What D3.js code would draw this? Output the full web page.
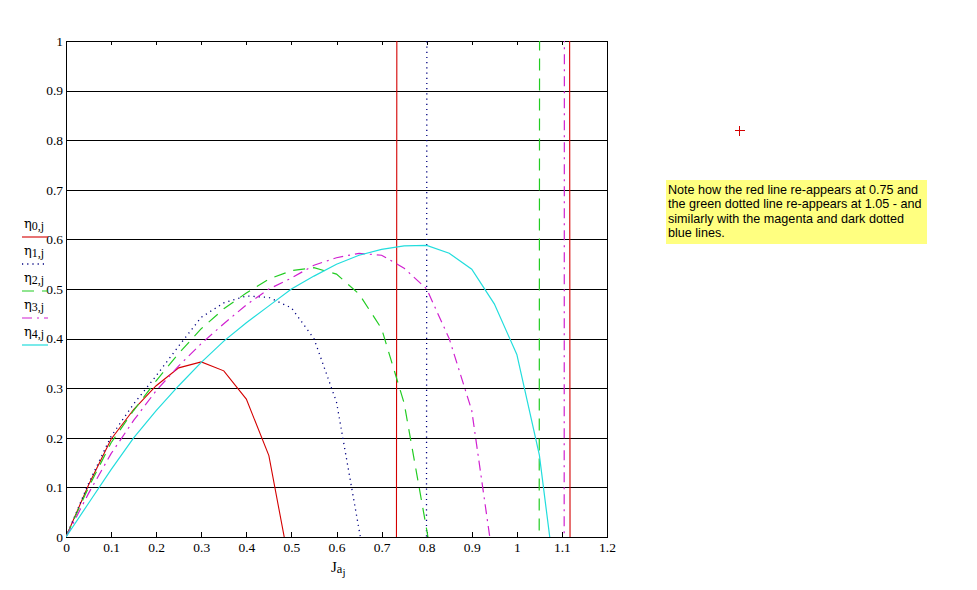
<!DOCTYPE html>
<html>
<head>
<meta charset="utf-8">
<script src="https://cdn.jsdelivr.net/npm/d3@7"></script>
<style>
  body { margin: 0; background: #fff; }
  svg { display: block; }
</style>
</head>
<body>
<div id="chart"></div>
<script>
// advance ratio values J (step 0.05)
var jVals = [0, 0.05, 0.1, 0.15, 0.2, 0.25, 0.3, 0.35, 0.4, 0.45, 0.5, 0.55, 0.6,
             0.65, 0.7, 0.75, 0.8, 0.85, 0.9, 0.95, 1.0, 1.05, 1.1, 1.15, 1.2];

// efficiency curves (values outside 0..1 are clipped, they make the jumps)
var eta0 = [0, 0.105, 0.197, 0.257, 0.305, 0.341, 0.353, 0.335, 0.278, 0.164, -0.077, -0.45, -1.1,
            -2.6, -40, 20.6, 7, 4.5, 3.6, 3.8, 5, 8, 20, -35.5, -12];
var eta1 = [0, 0.108, 0.203, 0.268, 0.325, 0.385, 0.443, 0.472, 0.486, 0.483, 0.462, 0.4, 0.272,
            0.015, -0.235, -60, 0.5, 60, 8, 4, 3, 2.6, 2.4, 2.3, 2.3];
var eta2 = [0, 0.1, 0.19, 0.255, 0.315, 0.37, 0.42, 0.46, 0.492, 0.52, 0.537, 0.543, 0.53,
            0.49, 0.42, 0.27, 0.015, -0.25, -0.6, -1.3, -60, 0.5, 60, 6, 3.5];
var eta3 = [0, 0.088, 0.168, 0.235, 0.295, 0.345, 0.39, 0.43, 0.468, 0.5, 0.522, 0.548, 0.563,
            0.572, 0.568, 0.542, 0.5, 0.4, 0.255, -0.064, -0.5, -1.5, -10, 90, 20];
var eta4 = [0, 0.068, 0.136, 0.2, 0.255, 0.305, 0.352, 0.395, 0.432, 0.466, 0.5, 0.526, 0.55,
            0.568, 0.58, 0.587, 0.588, 0.572, 0.54, 0.47, 0.368, 0.165, -0.194, -0.7, -1.5];

var seriesNames = ["0", "1", "2", "3", "4"];
var xTicks = [0, 0.1, 0.2, 0.3, 0.4, 0.5, 0.6, 0.7, 0.8, 0.9, 1, 1.1, 1.2];
var yTicks = [0, 0.1, 0.2, 0.3, 0.4, 0.5, 0.6, 0.7, 0.8, 0.9, 1];

var noteLines = [
    "Note how the red line re-appears at 0.75 and",
    "the green dotted line re-appears at 1.05 - and",
    "similarly with the magenta and dark dotted",
    "blue lines."
];

var styles = [
    { color: "#d40000", dash: null, width: 1.1 },
    { color: "#000080", dash: "1.2,4", width: 1.3 },
    { color: "#22cc22", dash: "12,8", width: 1.2 },
    { color: "#d020d0", dash: "10,5,2,5", width: 1.2 },
    { color: "#22dddd", dash: null, width: 1.2 }
];
var etas = [eta0, eta1, eta2, eta3, eta4];

var width = 977;
var height = 590;
var pLeft = 66, pRight = 607, pTop = 41, pBottom = 537;

var svg = d3.select("#chart").append("svg")
    .attr("width", width)
    .attr("height", height);

svg.append("rect").attr("width", width).attr("height", height).attr("fill", "#fff");

var x = d3.scaleLinear().domain([0, 1.2]).range([pLeft, pRight]);
var y = d3.scaleLinear().domain([0, 1]).range([pBottom, pTop]);

svg.append("clipPath").attr("id", "plotClip")
    .append("rect")
    .attr("x", pLeft).attr("y", pTop)
    .attr("width", pRight - pLeft).attr("height", pBottom - pTop);

var tickFont = "'Liberation Serif', 'Times New Roman', serif";

// horizontal grid + y labels
var yAxis = svg.append("g")
    .attr("transform", `translate(${pLeft},0)`)
    .call(d3.axisLeft(y).tickValues(yTicks).tickSize(-(pRight - pLeft)).tickPadding(3)
        .tickFormat(d => String(+d.toFixed(1))));
yAxis.select(".domain").remove();
yAxis.selectAll("line").attr("stroke", "#000").attr("shape-rendering", "crispEdges");
yAxis.selectAll("text")
    .style("font-family", tickFont)
    .style("font-size", "13.5px")
    .attr("fill", "#000");

// bottom axis, ticks pointing inwards
var xAxis = svg.append("g")
    .attr("transform", `translate(0,${pBottom})`)
    .call(d3.axisBottom(x).tickValues(xTicks).tickSizeInner(-5).tickSizeOuter(0).tickPadding(5)
        .tickFormat(d => String(+d.toFixed(1))));
xAxis.select(".domain").remove();
xAxis.selectAll("line").attr("stroke", "#000").attr("shape-rendering", "crispEdges");
xAxis.selectAll("text")
    .style("font-family", tickFont)
    .style("font-size", "13.5px")
    .attr("fill", "#000");

// top axis, ticks only
var xTop = svg.append("g")
    .attr("transform", `translate(0,${pTop})`)
    .call(d3.axisTop(x).tickValues(xTicks).tickSizeInner(-4).tickSizeOuter(0).tickFormat(""));
xTop.select(".domain").remove();
xTop.selectAll("line").attr("stroke", "#000").attr("shape-rendering", "crispEdges");

// plot border
svg.append("rect")
    .attr("x", pLeft).attr("y", pTop)
    .attr("width", pRight - pLeft).attr("height", pBottom - pTop)
    .attr("fill", "none").attr("stroke", "#000")
    .attr("shape-rendering", "crispEdges");

// curves
var line = d3.line()
    .x((d, i) => x(jVals[i]))
    .y(d => y(d));

var curves = svg.append("g").attr("clip-path", "url(#plotClip)");
etas.forEach(function (values, k) {
    curves.append("path")
        .datum(values)
        .attr("d", line)
        .attr("fill", "none")
        .attr("stroke", styles[k].color)
        .attr("stroke-width", styles[k].width)
        .attr("stroke-dasharray", styles[k].dash);
});

// legend on the left
var legend = svg.append("g");
seriesNames.forEach(function (name, k) {
    var ly = 237 + k * 27;
    var t = legend.append("text")
        .attr("x", 24)
        .attr("y", ly - 9)
        .attr("fill", "#000");
    t.append("tspan")
        .style("font-family", "'DejaVu Serif', serif")
        .style("font-size", "13px")
        .text("\u03B7");
    t.append("tspan")
        .attr("dy", 1.5)
        .style("font-family", "'Liberation Serif', serif")
        .style("font-size", "12px")
        .text(name + ",j");
    legend.append("line")
        .attr("x1", 22).attr("x2", 48)
        .attr("y1", ly).attr("y2", ly)
        .attr("stroke", styles[k].color)
        .attr("stroke-width", styles[k].width)
        .attr("stroke-dasharray", styles[k].dash);
});

// x axis title Ja_j
var xt = svg.append("text")
    .attr("x", 331)
    .attr("y", 572)
    .attr("fill", "#000")
    .style("font-family", "'Liberation Serif', serif");
xt.append("tspan").style("font-size", "15px").text("J");
xt.append("tspan").attr("dy", 1).style("font-size", "12.5px").text("a");
xt.append("tspan").attr("dy", 3).style("font-size", "11px").text("j");

// red cross marker
var mk = svg.append("g").attr("stroke", "#d40000").attr("stroke-width", 1)
    .attr("shape-rendering", "crispEdges");
mk.append("line").attr("x1", 734.5).attr("x2", 744.5).attr("y1", 130.5).attr("y2", 130.5);
mk.append("line").attr("x1", 739.5).attr("x2", 739.5).attr("y1", 125.5).attr("y2", 135.5);

// yellow note
svg.append("rect")
    .attr("x", 666).attr("y", 180)
    .attr("width", 261).attr("height", 64)
    .attr("fill", "#ffff80");
svg.append("g").selectAll("text")
    .data(noteLines)
    .join("text")
    .attr("x", 668)
    .attr("y", (d, i) => 193.5 + i * 14.5)
    .attr("fill", "#000")
    .style("font-family", "'Liberation Sans', Arial, sans-serif")
    .style("font-size", "12.6px")
    .text(d => d);
</script>
</body>
</html>
